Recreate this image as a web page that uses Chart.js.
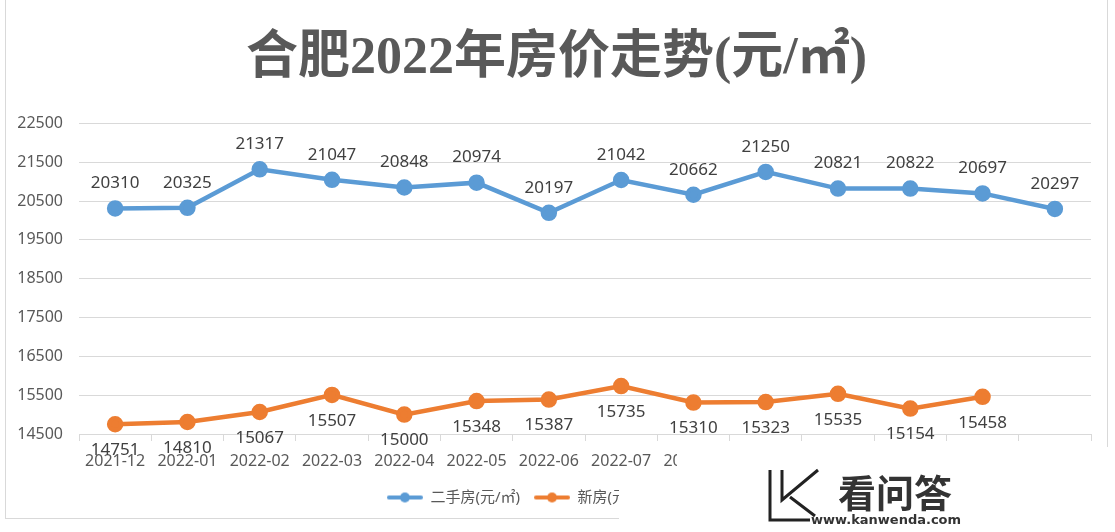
<!DOCTYPE html>
<html>
<head>
<meta charset="utf-8">
<script src="https://cdn.jsdelivr.net/npm/chart.js@4/dist/chart.umd.min.js"></script>
<style>
  html, body { margin: 0; padding: 0; background: #fff; }
  #wrap { width: 1115px; height: 532px; position: relative; }
</style>
</head>
<body>
<div id="wrap"><canvas id="myChart" width="1115" height="532"></canvas></div>
<script>
const meses = ["2021-12","2022-01","2022-02","2022-03","2022-04","2022-05","2022-06","2022-07","2022-08","2022-09","2022-10","2022-11","2022-12","2023-01"];
const segundaMano = [20310,20325,21317,21047,20848,20974,20197,21042,20662,21250,20821,20822,20697,20297];
const nuevas = [14751,14810,15067,15507,15000,15348,15387,15735,15310,15323,15535,15154,15458];
const nombres = ["二手房(元/㎡)", "新房(元/㎡)"];
const colores = ["#5B9BD5", "#ED7D31"];
const titulo = "合肥2022年房价走势(元/㎡)";

const fuente = '"Noto Sans", "Noto Sans CJK SC", sans-serif';

// icono de leyenda: linea con punto
function iconoLeyenda(color){
    const c = document.createElement("canvas");
    c.width = 36; c.height = 12;
    const ctx = c.getContext("2d");
    ctx.strokeStyle = color;
    ctx.lineWidth = 4;
    ctx.lineCap = "round";
    ctx.beginPath(); ctx.moveTo(2, 6); ctx.lineTo(34, 6); ctx.stroke();
    ctx.fillStyle = color;
    ctx.beginPath(); ctx.arc(18, 6, 5, 0, Math.PI * 2); ctx.fill();
    return c;
}

// mover titulo y leyenda como en el original
const mover = {
    id: "mover",
    afterLayout(chart){
        chart.titleBlock.left += 7;
        chart.titleBlock.right += 7;
        chart.legend.left -= 30;
        chart.legend.right -= 30;
    }
};

const etiquetas = {
    id: "etiquetas",
    afterDatasetsDraw(chart){
        const ctx = chart.ctx;
        ctx.save();
        ctx.font = '17px ' + fuente;
        ctx.fillStyle = "#404040";
        ctx.textAlign = "center";
        ctx.textBaseline = "middle";
        chart.data.datasets.forEach((ds, i) => {
            const meta = chart.getDatasetMeta(i);
            meta.data.forEach((p, j) => {
                const dy = i === 0 ? -25 : 26;
                ctx.fillText(ds.data[j], p.x, p.y + dy);
            });
        });
        ctx.restore();
    }
};

const marco = {
    id: "marco",
    afterDraw(chart){
        const ctx = chart.ctx;
        ctx.save();
        ctx.strokeStyle = "#D9D9D9";
        ctx.lineWidth = 1;
        ctx.strokeRect(5.5, -1, 1102, 519.5);
        // marca de agua
        ctx.fillStyle = "#fff";
        ctx.beginPath();
        ctx.moveTo(677, 447); ctx.lineTo(1115, 447); ctx.lineTo(1115, 532);
        ctx.lineTo(619, 532); ctx.lineTo(619, 478); ctx.lineTo(677, 478);
        ctx.closePath(); ctx.fill();
        ctx.fillStyle = "#333";
        ctx.font = 'bold 38px "Noto Sans CJK SC", sans-serif';
        ctx.textBaseline = "middle";
        ctx.fillText("看问答", 838, 493);
        ctx.font = 'bold 13px "DejaVu Sans", sans-serif';
        ctx.fillText("www.kanwenda.com", 811, 521);
        ctx.strokeStyle = "#222";
        ctx.lineWidth = 3;
        ctx.beginPath();
        ctx.moveTo(770, 470); ctx.lineTo(770, 520); ctx.lineTo(810, 520);
        ctx.moveTo(782, 470); ctx.lineTo(782, 500); ctx.lineTo(818, 470);
        ctx.moveTo(790, 497); ctx.lineTo(815, 516);
        ctx.stroke();
        ctx.restore();
    }
};

const grafico = new Chart(document.getElementById("myChart").getContext("2d"), {
    type: "line",
    data: {
        labels: meses,
        datasets: [
            { label: nombres[0], data: segundaMano, borderColor: colores[0], backgroundColor: colores[0], borderWidth: 4.5, pointRadius: 6, pointHoverRadius: 6, tension: 0 },
            { label: nombres[1], data: nuevas, borderColor: colores[1], backgroundColor: colores[1], borderWidth: 4.5, pointRadius: 6, pointHoverRadius: 6, tension: 0 }
        ]
    },
    options: {
        responsive: false,
        animation: false,
        layout: { padding: { left: 8, right: 24, top: 0, bottom: 17 } },
        plugins: {
            title: {
                display: true,
                text: titulo,
                color: "#595959",
                font: { family: '"Liberation Serif", "Noto Sans CJK SC", serif', size: 52, weight: "bold" },
                padding: { top: 28, bottom: 33 }
            },
            legend: {
                position: "bottom",
                labels: {
                    color: "#595959",
                    font: { family: fuente, size: 15 },
                    usePointStyle: true,
                    pointStyleWidth: 36,
                    padding: 14,
                    generateLabels(chart){
                        return chart.data.datasets.map((ds, i) => ({
                            text: ds.label,
                            fontColor: "#595959",
                            pointStyle: iconoLeyenda(colores[i]),
                            strokeStyle: "transparent",
                            fillStyle: "transparent",
                            lineWidth: 0,
                            datasetIndex: i
                        }));
                    }
                }
            },
            tooltip: { enabled: false }
        },
        scales: {
            x: {
                offset: true,
                grid: { offset: true, drawOnChartArea: false, drawTicks: true, tickLength: 7, color: "#D9D9D9" },
                border: { display: true, color: "#D9D9D9" },
                ticks: { color: "#595959", font: { family: fuente, size: 16 }, maxRotation: 0, autoSkip: false, padding: 11 },
                afterFit(scale){ scale.height = 42; }
            },
            y: {
                min: 14500,
                max: 22500,
                ticks: { stepSize: 1000, color: "#595959", font: { family: fuente, size: 16 }, padding: 16, callback: (v) => String(v) },
                grid: { color: "#D9D9D9", drawTicks: false },
                border: { display: false },
                afterFit(scale){ scale.width = 71; }
            }
        }
    },
    plugins: [mover, etiquetas, marco]
});
</script>
</body>
</html>
